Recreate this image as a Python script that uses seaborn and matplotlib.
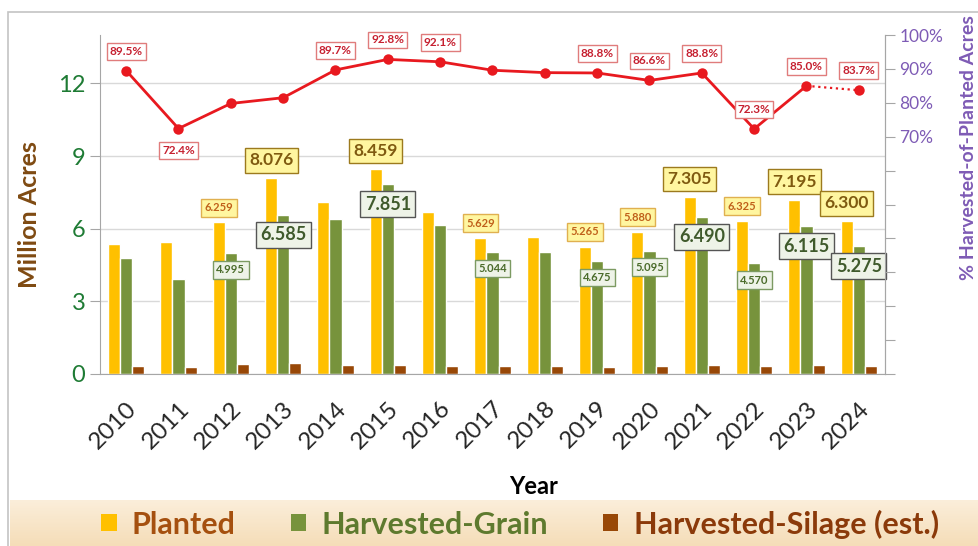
import numpy as np
import pandas as pd
import matplotlib.pyplot as plt
import matplotlib.ticker as mticker
from matplotlib.patches import Patch, Rectangle
from matplotlib.colors import LinearSegmentedColormap
import seaborn as sns

# data (million acres, and % harvested-of-planted)
years = [str(y) for y in range(2010, 2025)]
planted = [5.35, 5.44, 6.259, 8.076, 7.11, 8.459, 6.68, 5.629, 5.66, 5.265, 5.880, 7.305, 6.325, 7.195, 6.300]
harvested_grain = [4.77, 3.92, 4.995, 6.585, 6.39, 7.851, 6.14, 5.044, 5.04, 4.675, 5.095, 6.490, 4.570, 6.115, 5.275]
harvested_silage = [0.32, 0.30, 0.42, 0.45, 0.38, 0.38, 0.35, 0.34, 0.32, 0.28, 0.32, 0.38, 0.35, 0.38, 0.35]
pct_harvested = [89.5, 72.4, 79.8, 81.5, 89.7, 92.8, 92.1, 89.6, 88.9, 88.8, 86.6, 88.8, 72.3, 85.0, 83.7]

series_names = ['Planted', 'Harvested-Grain', 'Harvested-Silage (est.)']

# which years carry boxed value labels
big_label_years = ['2013', '2015', '2021', '2023', '2024']
small_label_years = ['2012', '2017', '2019', '2020', '2022']
pct_label_years = ['2010', '2011', '2014', '2015', '2016', '2019', '2020', '2021', '2022', '2023', '2024']
pct_below_years = ['2011']

GOLD = '#FFC000'
GREEN = '#77933C'
BROWN = '#984807'
RED = '#E8191F'
PURPLE = '#7E5BB5'

sns.set_style('white')
plt.rcParams['font.family'] = ['Lato', 'DejaVu Sans']

df = pd.DataFrame({
    'Year': years * 3,
    'Acres': planted + harvested_grain + harvested_silage,
    'Series': [series_names[0]] * 15 + [series_names[1]] * 15 + [series_names[2]] * 15,
})

W, H = 979, 546
fig = plt.figure(figsize=(W / 100, H / 100), dpi=100)

# outer frame and legend band
fig.add_artist(Rectangle((8 / W, -0.05), 1.0, 1.05 - 12 / H, transform=fig.transFigure,
                         fill=False, edgecolor='#C4C4C4', lw=1.2))
band = fig.add_axes([10 / W, 0, 1 - 10 / W, 46 / H])
band_cmap = LinearSegmentedColormap.from_list('band', ['#FBEEDA', '#F5DDB8'])
band.imshow(np.linspace(0, 1, 50).reshape(-1, 1), aspect='auto', cmap=band_cmap)
band.axis('off')

ax = fig.add_axes([100 / W, 1 - 374 / H, 785 / W, 339 / H])
sns.barplot(data=df, x='Year', y='Acres', hue='Series', palette=[GOLD, GREEN, BROWN],
            width=0.69, gap=0, saturation=1, legend=False, ax=ax)

ax.set_xlim(-0.5, 14.5)
ax.set_ylim(0, 14)
ax.set_yticks([0, 3, 6, 9, 12])
ax.yaxis.grid(True, color='#D9D9D9', lw=1)
ax.set_axisbelow(True)
ax.set_xlabel('')
ax.set_ylabel('')
for side in ['left', 'bottom', 'right']:
    ax.spines[side].set_color('#A6A6A6')
ax.spines['top'].set_visible(False)

ax.set_xticks(range(15))
ax.set_xticklabels(years, rotation=45, ha='right', va='top', rotation_mode='anchor', fontsize=17.5)
ax.set_xticks(np.arange(-0.5, 15, 1), minor=True)
ax.tick_params(axis='x', which='major', length=0, pad=17)
ax.tick_params(axis='x', which='minor', length=8, color='#A6A6A6', direction='out')
ax.tick_params(axis='y', length=7, color='#A6A6A6', direction='out', labelsize=17,
               labelcolor='#1E7B34', left=True)

# boxed value labels on bars
for i, yr in enumerate(years):
    if yr in big_label_years:
        ax.annotate(f'{planted[i]:.3f}', (i - 0.23, planted[i]), xytext=(0, 13),
                    textcoords='offset points', ha='center', va='center', fontsize=12.5,
                    fontweight='bold', color='#7F5A10',
                    bbox=dict(boxstyle='square,pad=0.25', fc='#FFF6A0', ec='#9C7A1E', lw=1))
        ax.annotate(f'{harvested_grain[i]:.3f}', (i, harvested_grain[i]), xytext=(0, -14.5),
                    textcoords='offset points', ha='center', va='center', fontsize=13,
                    fontweight='bold', color='#3F5A2C',
                    bbox=dict(boxstyle='square,pad=0.25', fc='#EEF3E8', ec='#555555', lw=1))
    elif yr in small_label_years:
        ax.annotate(f'{planted[i]:.3f}', (i - 0.23, planted[i]), xytext=(0, 10.5),
                    textcoords='offset points', ha='center', va='center', fontsize=8,
                    fontweight='bold', color='#C0601A',
                    bbox=dict(boxstyle='square,pad=0.3', fc='#FFF6A0', ec='#E0B050', lw=1))
        ax.annotate(f'{harvested_grain[i]:.3f}', (i, harvested_grain[i]), xytext=(0, -12),
                    textcoords='offset points', ha='center', va='center', fontsize=8,
                    fontweight='bold', color='#4A6B2A',
                    bbox=dict(boxstyle='square,pad=0.3', fc='#EEF3E8', ec='#7C9A62', lw=1))

# percent line on the right axis
ax2 = ax.twinx()
idx = np.arange(len(years))
sns.lineplot(x=idx[:-1], y=pct_harvested[:-1], ax=ax2, color=RED, lw=2,
             marker='o', markersize=7.5, markeredgewidth=0)
ax2.plot(idx[-2:], pct_harvested[-2:], ls=':', color=RED, lw=1.6)
ax2.plot(idx[-1:], pct_harvested[-1:], 'o', color=RED, markersize=7.5, markeredgewidth=0)
ax2.set_ylim(0, 100)
ax2.set_yticks(range(0, 101, 10))
ax2.yaxis.set_major_formatter(mticker.FuncFormatter(lambda v, p: f'{v:.0f}%' if v >= 70 else ''))
ax2.tick_params(axis='y', length=7, color='#A6A6A6', direction='out', labelsize=12.5,
                labelcolor=PURPLE, right=True)
ax2.spines['top'].set_visible(False)
ax2.spines['right'].set_color('#A6A6A6')
ax2.spines['left'].set_visible(False)
ax2.spines['bottom'].set_visible(False)
ax2.set_xlim(-0.5, 14.5)

for i, yr in enumerate(years):
    if yr in pct_label_years:
        dy = -16 if yr in pct_below_years else 14
        ax2.annotate(f'{pct_harvested[i]:.1f}%', (i, pct_harvested[i]), xytext=(0, dy),
                     textcoords='offset points', ha='center', va='center', fontsize=8.5,
                     fontweight='bold', color='#C62030',
                     bbox=dict(boxstyle='square,pad=0.25', fc='white', ec='#E07C7C', lw=1))

# axis titles
fig.text(534 / W, 1 - 486 / H, 'Year', ha='center', va='center', fontsize=17,
         fontweight='bold', color='black')
fig.text(30 / W, 1 - 215 / H, 'Million Acres', ha='center', va='center', rotation=90,
         fontsize=18, fontweight='bold', color='#7F4A12')
fig.text(969 / W, 1 - 148 / H, '% Harvested-of-Planted Acres', ha='center', va='center',
         rotation=90, fontsize=14, fontweight='bold', color=PURPLE)

# legend in the bottom band
handles = [Patch(facecolor=c, edgecolor='none') for c in [GOLD, GREEN, BROWN]]
leg = fig.legend(handles, series_names, loc='center', bbox_to_anchor=(520 / W, 1 - 524 / H),
                 ncol=3, frameon=False, prop=dict(weight='bold', size=22),
                 handlelength=0.5, handleheight=0.5, handletextpad=0.5, columnspacing=1.8)
for txt, c in zip(leg.get_texts(), ['#A5500F', '#5E7A2E', '#8B3A0A']):
    txt.set_color(c)

fig.savefig('out.png', dpi=100)
